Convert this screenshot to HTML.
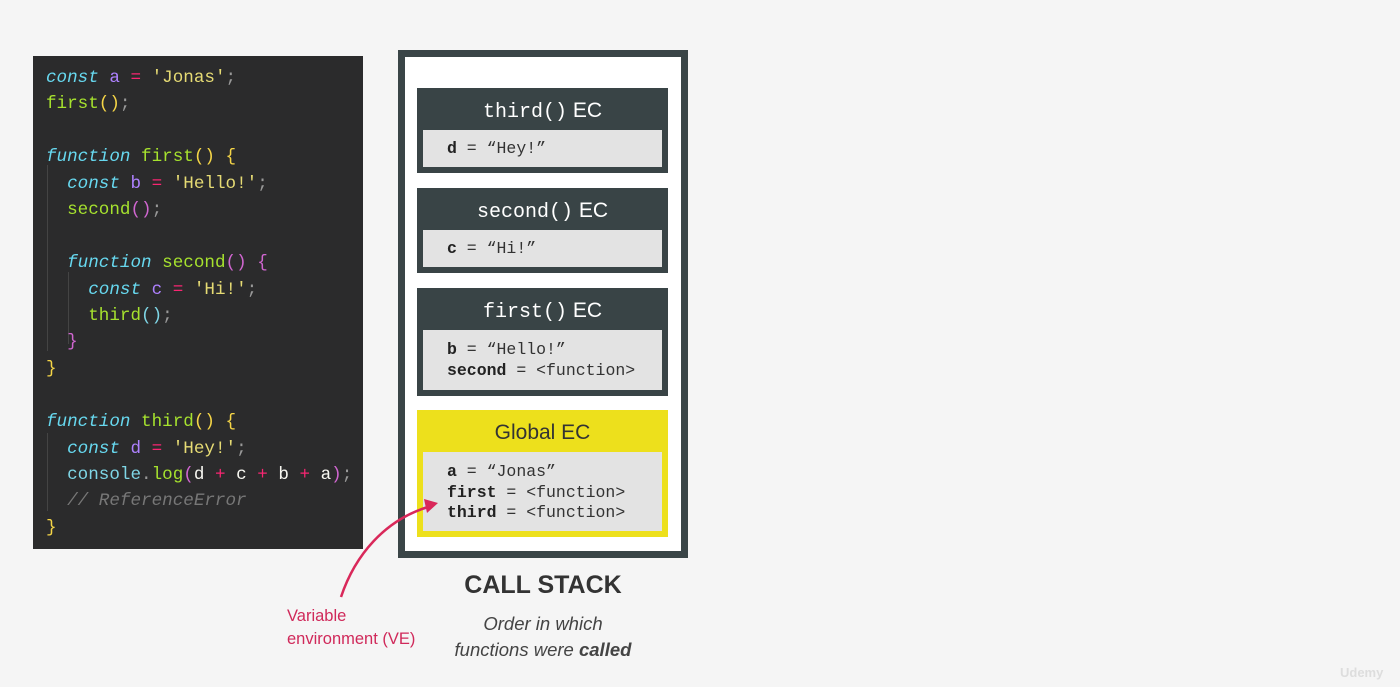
<!DOCTYPE html>
<html><head><meta charset="utf-8"><style>
body{margin:0;width:1400px;height:687px;background:#f5f5f5;position:relative;overflow:hidden;font-family:"Liberation Sans",sans-serif}
.code{position:absolute;left:33px;top:56px;width:330px;height:493px;background:#2b2b2c}
.l{position:absolute;left:13px;font-family:"Liberation Mono",monospace;font-size:17.6px;white-space:pre;line-height:20px;color:#f8f8f2}
.k{color:#67d8ef;font-style:italic}.v{color:#ae81ff}.o{color:#f92672}.s{color:#e6db74}.f{color:#a6e22e}.p{color:#f5d547}.m{color:#d066d0}.c{font-style:italic;color:#777}.g{color:#999}.cy{color:#7fd6e6}
.guide{position:absolute;width:1px;background:#444}
.stack{position:absolute;left:398px;top:50px;width:276px;height:494px;border:7px solid #3a4547;background:#fff}
.ec{position:absolute;left:417px;width:251px;background:#394446}
.ec .h{height:40px;color:#fff;font-size:21px;text-align:center;line-height:45px;font-family:"Liberation Sans",sans-serif}
.ec .h .mn{font-family:"Liberation Mono",monospace;font-size:20px}
.ec .b{position:absolute;left:6px;right:6px;background:#e3e3e3;font-family:"Liberation Mono",monospace;font-size:16.5px;color:#333;padding-left:24px;box-sizing:border-box;line-height:20.5px}
.ec b{color:#222}
</style></head><body>
<div class="code">
<div class="guide" style="left:14px;top:109px;height:186px"></div>
<div class="guide" style="left:35px;top:216px;height:72px"></div>
<div class="guide" style="left:14px;top:377px;height:78px"></div>
<div class="l" style="top:12px"><span class="k">const</span> <span class="v">a</span> <span class="o">=</span> <span class="s">'Jonas'</span><span class="g">;</span></div>
<div class="l" style="top:38px"><span class="f">first</span><span class="p">()</span><span class="g">;</span></div>
<div class="l" style="top:91px"><span class="k">function</span> <span class="f">first</span><span class="p">() {</span></div>
<div class="l" style="top:118px">  <span class="k">const</span> <span class="v">b</span> <span class="o">=</span> <span class="s">'Hello!'</span><span class="g">;</span></div>
<div class="l" style="top:144px">  <span class="f">second</span><span class="m">()</span><span class="g">;</span></div>
<div class="l" style="top:197px">  <span class="k">function</span> <span class="f">second</span><span class="m">() {</span></div>
<div class="l" style="top:224px">    <span class="k">const</span> <span class="v">c</span> <span class="o">=</span> <span class="s">'Hi!'</span><span class="g">;</span></div>
<div class="l" style="top:250px">    <span class="f">third</span><span class="cy">()</span><span class="g">;</span></div>
<div class="l" style="top:276px">  <span class="m">}</span></div>
<div class="l" style="top:303px"><span class="p">}</span></div>
<div class="l" style="top:356px"><span class="k">function</span> <span class="f">third</span><span class="p">() {</span></div>
<div class="l" style="top:383px">  <span class="k">const</span> <span class="v">d</span> <span class="o">=</span> <span class="s">'Hey!'</span><span class="g">;</span></div>
<div class="l" style="top:409px">  <span class="cy">console</span><span class="g">.</span><span class="f">log</span><span class="m">(</span>d <span class="o">+</span> c <span class="o">+</span> b <span class="o">+</span> a<span class="m">)</span><span class="g">;</span></div>
<div class="l" style="top:435px">  <span class="c">// ReferenceError</span></div>
<div class="l" style="top:462px"><span class="p">}</span></div>
</div>

<div class="stack"></div>
<div class="ec" style="top:88px;height:85px"><div class="h"><span class="mn">third()</span> EC</div><div class="b" style="top:42px;height:37px;line-height:37px"><b>d</b> = “Hey!”</div></div>
<div class="ec" style="top:188px;height:85px"><div class="h"><span class="mn">second()</span> EC</div><div class="b" style="top:42px;height:37px;line-height:37px"><b>c</b> = “Hi!”</div></div>
<div class="ec" style="top:288px;height:108px"><div class="h"><span class="mn">first()</span> EC</div><div class="b" style="top:42px;height:60px;padding-top:10px"><b>b</b> = “Hello!”<br><b>second</b> = &lt;function&gt;</div></div>
<div class="ec" style="top:410px;height:127px;background:#ede01c"><div class="h" style="color:#333">Global EC</div><div class="b" style="top:42px;height:79px;padding-top:10px"><b>a</b> = “Jonas”<br><b>first</b> = &lt;function&gt;<br><b>third</b> = &lt;function&gt;</div></div>

<div style="position:absolute;left:400px;width:286px;top:571px;text-align:center;font-weight:bold;font-size:25px;color:#333">CALL STACK</div>
<div style="position:absolute;left:400px;width:286px;top:611px;text-align:center;font-style:italic;font-size:18.5px;color:#444;line-height:26px">Order in which<br>functions were <b>called</b></div>

<div style="position:absolute;left:287px;top:605px;font-size:16.5px;color:#d0295a;line-height:23px">Variable<br>environment (VE)</div>
<svg style="position:absolute;left:0;top:0" width="1400" height="687">
<path d="M341 597 C355 555 385 520 428 507" fill="none" stroke="#d9285a" stroke-width="2.5"/>
<polygon points="438,503 424,499 427,513" fill="#d9285a"/>
</svg>
<div style="position:absolute;left:1340px;top:665px;color:#ddd;font-size:13px;font-weight:bold">Udemy</div>
</body></html>
